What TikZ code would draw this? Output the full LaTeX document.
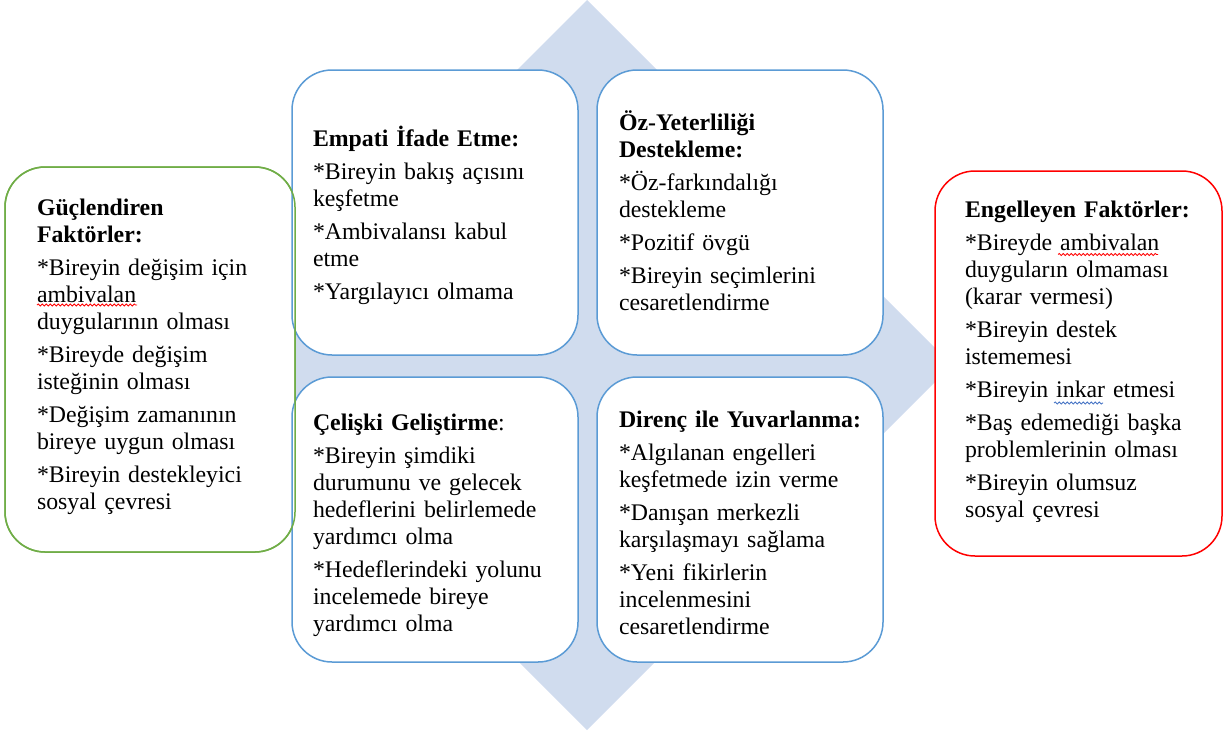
\documentclass[tikz,border=0pt]{standalone}
\usepackage{fontspec}
\setmainfont{Liberation Serif}
\usetikzlibrary{decorations.pathmorphing}
\definecolor{boxblue}{RGB}{91,155,213}
\definecolor{diafill}{RGB}{208,220,238}
\definecolor{boxgreen}{RGB}{112,173,71}
\definecolor{boxred}{RGB}{255,0,0}
\definecolor{waveblue}{RGB}{68,114,196}
\tikzset{
  cardbox/.style={rectangle, rounded corners=40, inner sep=0, outer sep=0, line width=1.5pt, fill=white},
  bluebox/.style={cardbox, draw=boxblue, minimum width=286, minimum height=285},
  greenbox/.style={cardbox, draw=boxgreen, minimum width=290, minimum height=385},
  redbox/.style={cardbox, draw=boxred, minimum width=287, minimum height=385},
  cardtext/.style={anchor=base west, inner sep=0, outer sep=0, text width=262, align=left,
    font=\fontsize{23.8}{27}\selectfont},
  spellwave/.style={line width=0.8pt, decorate, decoration={snake, amplitude=1.1pt, segment length=4pt}},
}
\begin{document}
\begin{tikzpicture}[x=1pt,y=-1pt]
\useasboundingbox (0,0) rectangle (1225,731);
% background diamond
\fill[diafill] (587,0) -- (952,365) -- (587,730) -- (222,365) -- cycle;
% side boxes
\node[greenbox] (green) at (150,359.5) {};
\node[redbox] (red) at (1078.5,363.5) {};
% four central boxes
\node[bluebox] (tl) at (435,212.5) {};
\node[bluebox] (tr) at (740,212.5) {};
\node[bluebox] (bl) at (435,519.5) {};
\node[bluebox] (br) at (740,519.5) {};
% green border visible on top
\draw[boxgreen, line width=1.5pt, rounded corners=40] (green.south west) rectangle (green.north east);
% texts
\node[cardtext] (greentext) at (37,215) {\textbf{Güçlendiren}\\\textbf{Faktörler:}\\[6pt]
*Bireyin değişim için\\ambivalan\\duygularının olması\\[6pt]
*Bireyde değişim\\isteğinin olması\\[6pt]
*Değişim zamanının\\bireye uygun olması\\[6pt]
*Bireyin destekleyici\\sosyal çevresi};
\node[cardtext] (tltext) at (313,146) {\textbf{Empati İfade Etme:}\\[6pt]
*Bireyin bakış açısını\\keşfetme\\[6pt]
*Ambivalansı kabul\\etme\\[6pt]
*Yargılayıcı olmama};
\node[cardtext] (trtext) at (619,130) {\textbf{Öz-Yeterliliği}\\\textbf{Destekleme:}\\[6pt]
*Öz-farkındalığı\\destekleme\\[6pt]
*Pozitif övgü\\[6pt]
*Bireyin seçimlerini\\cesaretlendirme};
\node[cardtext] (bltext) at (313,430) {\textbf{Çelişki Geliştirme}:\\[6pt]
*Bireyin şimdiki\\durumunu ve gelecek\\hedeflerini belirlemede\\yardımcı olma\\[6pt]
*Hedeflerindeki yolunu\\incelemede bireye\\yardımcı olma};
\node[cardtext] (brtext) at (619,427) {\textbf{Direnç ile Yuvarlanma:}\\[6pt]
*Algılanan engelleri\\keşfetmede izin verme\\[6pt]
*Danışan merkezli\\karşılaşmayı sağlama\\[6pt]
*Yeni fikirlerin\\incelenmesini\\cesaretlendirme};
\node[cardtext] (redtext) at (965,217) {\textbf{Engelleyen Faktörler:}\\[6pt]
*Bireyde ambivalan\\duyguların olmaması\\(karar vermesi)\\[6pt]
*Bireyin destek\\istememesi\\[6pt]
*Bireyin inkar etmesi\\[6pt]
*Baş edemediği başka\\problemlerinin olması\\[6pt]
*Bireyin olumsuz\\sosyal çevresi};
% spell-check wavy underlines
\draw[spellwave, red] (37,305) -- (137,305);
\draw[spellwave, red] (1058,254.5) -- (1158,254.5);
\draw[spellwave, waveblue] (1054,403) -- (1103,403);
\end{tikzpicture}
\end{document}
